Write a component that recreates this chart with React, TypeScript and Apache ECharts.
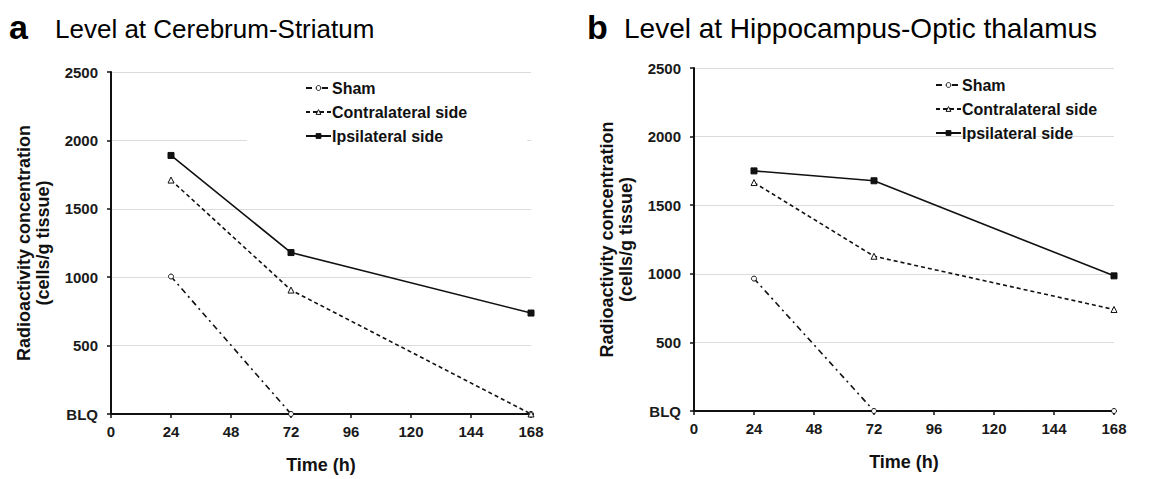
import React, { useEffect, useRef } from "react";
import * as echarts from "echarts";

const times = [24, 72, 168];
const seriesNames = ["Sham", "Contralateral side", "Ipsilateral side"];

const shamA = [1005, 0, 0];
const contraA = [1710, 906, 0];
const ipsiA = [1890, 1180, 738];

const shamB = [965, 0, 0];
const contraB = [1665, 1128, 740];
const ipsiB = [1750, 1678, 985];

const titleA = "Level at Cerebrum-Striatum";
const titleB = "Level at Hippocampus-Optic thalamus";
const yName = "Radioactivity concentration\n(cells/g tissue)";
const xName = "Time (h)";

const FONT = "'Liberation Sans', Arial, sans-serif";

function pairs(vals: number[]) {
  return times.map((t, i) => [t, vals[i]]);
}

export default function App() {
  const ref = useRef<HTMLDivElement>(null);
  useEffect(() => {
    document.body.style.margin = "0";
    const chart = echarts.init(ref.current!, undefined, { renderer: "svg" });

    const xAxisBase = (gridIndex: number) => ({
      type: "value",
      gridIndex,
      min: 0,
      max: 168,
      interval: 24,
      name: xName,
      nameLocation: "middle",
      nameGap: 42,
      nameTextStyle: { fontFamily: FONT, fontWeight: "bold", fontSize: 18, color: "#111" },
      axisLine: { show: true, onZero: false, lineStyle: { color: "#111", width: 2 } },
      axisTick: { show: true, inside: false, length: 4, lineStyle: { color: "#111", width: 1.5 } },
      axisLabel: { fontFamily: FONT, fontWeight: "bold", fontSize: 15, color: "#1a1a1a", margin: 10 },
      splitLine: { show: false },
    });
    const yAxisBase = (gridIndex: number) => ({
      type: "value",
      gridIndex,
      min: 0,
      max: 2500,
      interval: 500,
      name: yName,
      nameLocation: "middle",
      nameGap: 59,
      nameTextStyle: { fontFamily: FONT, fontWeight: "bold", fontSize: 18, color: "#111", lineHeight: 19 },
      axisLine: { show: true, lineStyle: { color: "#111", width: 2 } },
      axisTick: { show: true, inside: false, length: 4, lineStyle: { color: "#111", width: 1.5 } },
      axisLabel: {
        fontFamily: FONT,
        fontWeight: "bold",
        fontSize: 15,
        color: "#1a1a1a",
        margin: 13,
        formatter: (v: number) => (v === 0 ? "BLQ" : String(v)),
      },
      splitLine: { show: true, lineStyle: { color: "#dcdcdc", width: 1 } },
    });

    const mk = (name: string, vals: number[], idx: number) => {
      const base: any = {
        name,
        type: "line",
        xAxisIndex: idx,
        yAxisIndex: idx,
        data: pairs(vals),
        symbolSize: 5,
        z: 3,
      };
      if (name === "Sham") {
        base.symbol = "circle";
        base.lineStyle = { color: "#111", width: 1.6, type: [6, 4, 2, 4] };
        base.itemStyle = { color: "#fff", borderColor: "#111", borderWidth: 1 };
      } else if (name === "Contralateral side") {
        base.symbol = "triangle";
        base.symbolSize = 6;
        base.lineStyle = { color: "#111", width: 1.6, type: [4, 3] };
        base.itemStyle = { color: "#fff", borderColor: "#111", borderWidth: 1 };
      } else {
        base.symbol = "rect";
        base.symbolSize = 6;
        base.lineStyle = { color: "#111", width: 1.6, type: "solid" };
        base.itemStyle = { color: "#111", borderColor: "#111", borderWidth: 1 };
      }
      return base;
    };

    const legendData = [
      { name: seriesNames[0], itemStyle: { color: "#fff", borderColor: "#111", borderWidth: 1 } },
      { name: seriesNames[1], itemStyle: { color: "#fff", borderColor: "#111", borderWidth: 1 } },
      { name: seriesNames[2], itemStyle: { color: "#111", borderColor: "#111", borderWidth: 1 } },
    ];

    const legendBase = {
      data: legendData,
      orient: "vertical",
      itemWidth: 25,
      itemHeight: 6,
      itemGap: 8,
      textStyle: { fontFamily: FONT, fontWeight: "bold", fontSize: 16, color: "#111", padding: [0, 0, 0, -4] },
      selectedMode: false,
    };

    chart.setOption({
      animation: false,
      backgroundColor: "#fff",
      title: [
        { text: "a", left: 4, top: 5, textStyle: { fontFamily: FONT, fontWeight: "bold", fontSize: 34, color: "#000" } },
        { text: titleA, left: 50, top: 11, textStyle: { fontFamily: FONT, fontWeight: "normal", fontSize: 26, color: "#000" } },
        { text: "b", left: 582, top: 5, textStyle: { fontFamily: FONT, fontWeight: "bold", fontSize: 34, color: "#000" } },
        { text: titleB, left: 619, top: 9, textStyle: { fontFamily: FONT, fontWeight: "normal", fontSize: 28, color: "#000" } },
      ],
      legend: [
        {
          ...legendBase,
          left: 247,
          top: 76,
          backgroundColor: "#fff",
          padding: [4, 60, 6, 58],
        },
        {
          ...legendBase,
          left: 935,
          top: 77,
          padding: 0,
        },
      ],
      grid: [
        { left: 111, top: 72, width: 420, height: 342 },
        { left: 694, top: 68, width: 420, height: 343 },
      ],
      xAxis: [xAxisBase(0), xAxisBase(1)],
      yAxis: [yAxisBase(0), yAxisBase(1)],
      series: [
        mk("Sham", shamA, 0),
        mk("Contralateral side", contraA, 0),
        mk("Ipsilateral side", ipsiA, 0),
        mk("Sham", shamB, 1),
        mk("Contralateral side", contraB, 1),
        mk("Ipsilateral side", ipsiB, 1),
      ],
    });
    return () => chart.dispose();
  }, []);
  return <div ref={ref} style={{ width: 1152, height: 479 }} />;
}
